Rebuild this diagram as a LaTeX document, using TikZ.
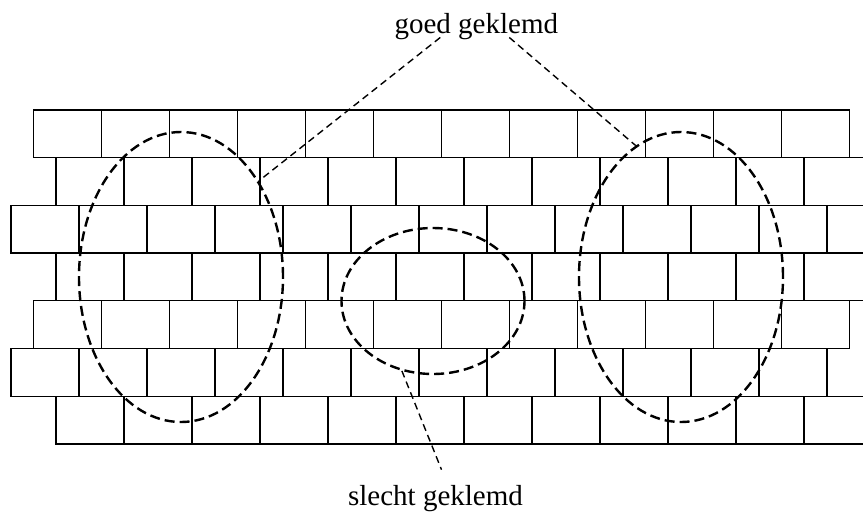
\documentclass[tikz,border=0pt]{standalone}
\usepackage{fontspec}
\setmainfont{Liberation Serif}
\usetikzlibrary{shapes.geometric}
\tikzset{
  brick/.style={draw=black, line width=1.3pt},
  zone/.style={draw=black, ellipse, line width=2.4pt, dash pattern=on 10pt off 5pt, inner sep=0pt},
  conn/.style={draw=black, line width=1.4pt, dash pattern=on 7pt off 4.5pt},
  lbl/.style={font=\fontsize{29}{34}\selectfont, inner sep=0pt, anchor=base}
}
\begin{document}
\begin{tikzpicture}[x=1pt,y=-1pt]
\fill[white] (0,0) rectangle (863,512);
\clip (0,0) rectangle (863,512);
% brick rows: row index / left start
\foreach \r/\s in {0/33.3, 1/56, 2/11, 3/56, 4/33.3, 5/11, 6/56}{
  \foreach \k in {0,...,11}{
    \draw[brick] ({\s+68*\k},{110+47.7*\r}) rectangle ({\s+68*(\k+1)},{110+47.7*(\r+1)});
  }
}
% zones
\node[zone, minimum width=204pt, minimum height=290pt] (L) at (181,277) {};
\node[zone, minimum width=183pt, minimum height=146pt] (M) at (433,301) {};
\node[zone, minimum width=204pt, minimum height=290pt] (R) at (681,277) {};
% labels
\node[lbl] (goed) at (476.3,33) {goed geklemd};
\node[lbl] (slecht) at (435.5,505) {slecht geklemd};
% connectors
\draw[conn] ([xshift=-36pt,yshift=2pt]goed.south) -- (L.51.2);
\draw[conn] ([xshift=33pt,yshift=2pt]goed.south) -- (R.109.6);
\draw[conn] (M.246.7) -- ([xshift=6pt,yshift=15pt]slecht.north);
\end{tikzpicture}
\end{document}
